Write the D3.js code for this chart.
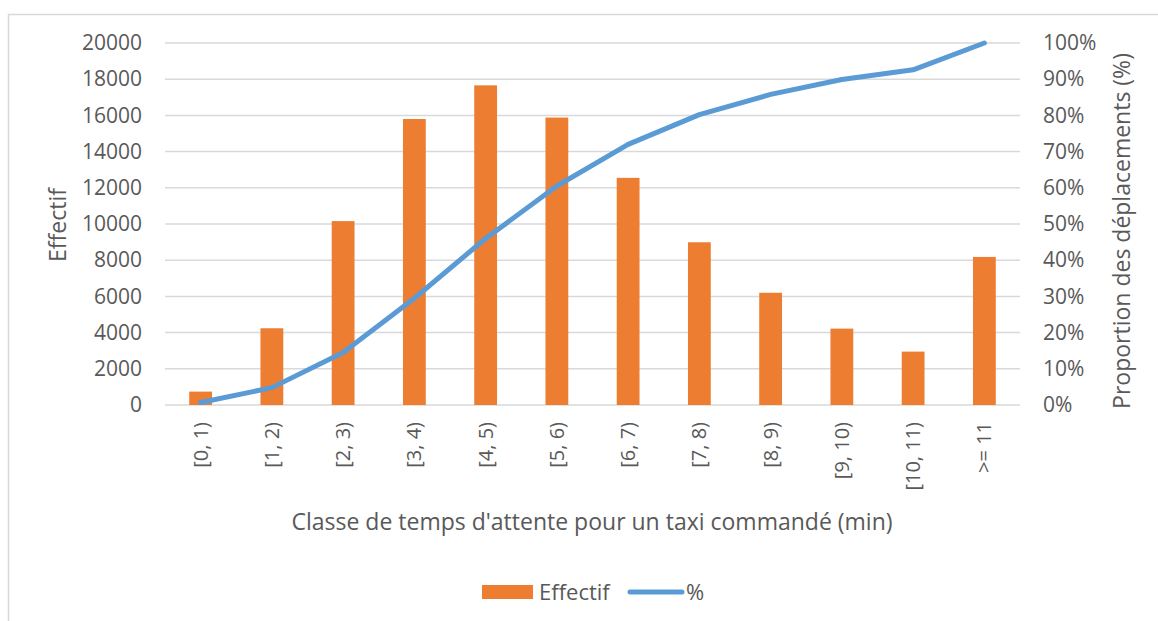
<!DOCTYPE html>
<meta charset="utf-8">
<style>
body { margin:0; background:#fff; }
svg text { font-family: "Open Sans", sans-serif; fill:#595959; }
.grid line { stroke:#d9d9d9; stroke-width:1.5px; }
.axis path, .axis line { display:none; }
</style>
<body>
<script src="https://cdnjs.cloudflare.com/ajax/libs/d3/7.8.5/d3.min.js"></script>
<svg id="chart" width="1158" height="621"></svg>
<script>
// data
var categories = ["[0, 1)", "[1, 2)", "[2, 3)", "[3, 4)", "[4, 5)", "[5, 6)",
                  "[6, 7)", "[7, 8)", "[8, 9)", "[9, 10)", "[10, 11)", ">= 11"];
var effectif = [740, 4240, 10160, 15800, 17660, 15880, 12550, 8990, 6200, 4220, 2950, 8180];
var cumulPct = [0.7, 4.8, 14.5, 29.5, 46, 60.5, 72, 80.2, 85.8, 89.9, 92.6, 100];
var leftTicks = [0, 2000, 4000, 6000, 8000, 10000, 12000, 14000, 16000, 18000, 20000];
var rightTicks = [0, 10, 20, 30, 40, 50, 60, 70, 80, 90, 100];

var svg = d3.select("#chart");
var plotL = 165, plotR = 1020, plotT = 43, plotB = 405;

// outer frame
svg.append("path")
  .attr("d", "M8.5,640 V14.5 H1170")
  .attr("fill", "none").attr("stroke", "#d9d9d9").attr("stroke-width", 1.5);

var x = d3.scaleBand().domain(categories).range([plotL, plotR])
  .paddingInner(0.68).paddingOuter(0.34);
var y = d3.scaleLinear().domain([0, 20000]).range([plotB, plotT]);
var y2 = d3.scaleLinear().domain([0, 100]).range([plotB, plotT]);

// gridlines
svg.append("g").attr("class", "grid")
  .selectAll("line").data(leftTicks).join("line")
  .attr("x1", plotL).attr("x2", plotR)
  .attr("y1", function(d){ return y(d); }).attr("y2", function(d){ return y(d); });

// left axis
var ga = svg.append("g").attr("class", "axis")
  .attr("transform", "translate(" + (plotL - 10) + ",0)")
  .call(d3.axisLeft(y).tickValues(leftTicks).tickSize(0).tickPadding(13).tickFormat(d3.format("d")));
ga.selectAll("text").style("font-size", "21px").attr("fill", "#595959");

// right axis
var gb = svg.append("g").attr("class", "axis")
  .attr("transform", "translate(" + (plotR + 10) + ",0)")
  .call(d3.axisRight(y2).tickValues(rightTicks).tickSize(0).tickPadding(13)
    .tickFormat(function(d){ return d + "%"; }));
gb.selectAll("text").style("font-size", "21px").attr("fill", "#595959");

// bars
svg.append("g").selectAll("rect").data(effectif).join("rect")
  .attr("x", function(d, i){ return x(categories[i]); })
  .attr("width", x.bandwidth())
  .attr("y", function(d){ return y(d); })
  .attr("height", function(d){ return y(0) - y(d); })
  .attr("fill", "#ED7D31");

// cumulative line
var line = d3.line()
  .x(function(d, i){ return x(categories[i]) + x.bandwidth() / 2; })
  .y(function(d){ return y2(d); });
svg.append("path").datum(cumulPct)
  .attr("d", line).attr("fill", "none")
  .attr("stroke", "#5B9BD5").attr("stroke-width", 5)
  .attr("stroke-linejoin", "round").attr("stroke-linecap", "round");

// x labels, rotated
svg.append("g").selectAll("text").data(categories).join("text")
  .attr("transform", function(d){
    return "translate(" + (x(d) + x.bandwidth() / 2 + 7) + ",422) rotate(-90)";
  })
  .attr("text-anchor", "end")
  .style("font-size", "20px")
  .text(function(d){ return d; });

// axis titles
svg.append("text")
  .attr("x", 592).attr("y", 530)
  .attr("text-anchor", "middle").style("font-size", "23px")
  .text("Classe de temps d'attente pour un taxi commandé (min)");

svg.append("text")
  .attr("transform", "translate(66,225) rotate(-90)")
  .attr("text-anchor", "middle").style("font-size", "23px")
  .text("Effectif");

svg.append("text")
  .attr("transform", "translate(1130,231) rotate(-90)")
  .attr("text-anchor", "middle").style("font-size", "23px")
  .text("Proportion des déplacements (%)");

// legend
var lg = svg.append("g");
lg.append("rect").attr("x", 482).attr("y", 585).attr("width", 51).attr("height", 14)
  .attr("fill", "#ED7D31");
lg.append("text").attr("x", 539).attr("y", 600).style("font-size", "22px").text("Effectif");
lg.append("line").attr("x1", 630).attr("x2", 682).attr("y1", 592).attr("y2", 592)
  .attr("stroke", "#5B9BD5").attr("stroke-width", 5).attr("stroke-linecap", "round");
lg.append("text").attr("x", 686).attr("y", 600).style("font-size", "22px").text("%");
</script>
</body>
